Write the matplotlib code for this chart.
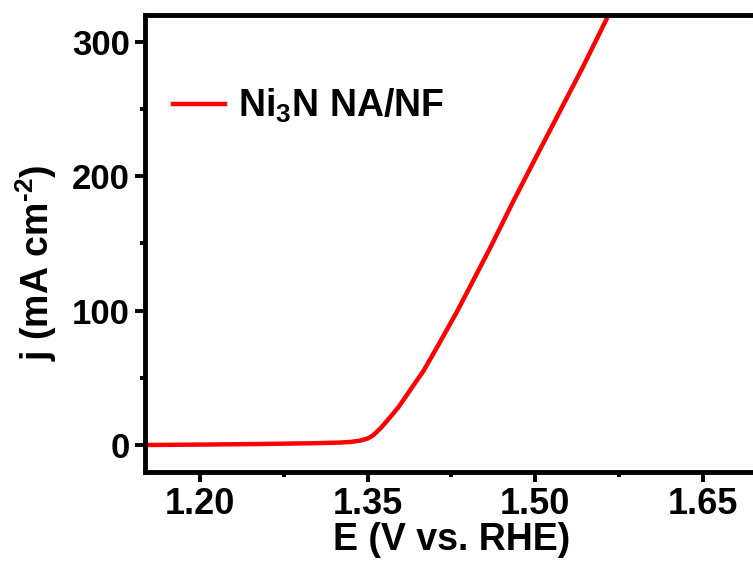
import numpy as np
import matplotlib
matplotlib.use("Agg")
import matplotlib.pyplot as plt
from matplotlib.ticker import FixedLocator, FormatStrFormatter

# LSV curve (E in V vs RHE, j in mA cm^-2)
potential = [1.151, 1.200, 1.250, 1.300, 1.325, 1.335, 1.343, 1.350, 1.355,
             1.362, 1.370, 1.378, 1.385, 1.392, 1.400, 1.415, 1.430, 1.445,
             1.460, 1.480, 1.502, 1.513, 1.528, 1.543, 1.565, 1.580]
current = [0.0, 0.3, 0.7, 1.3, 1.8, 2.3, 3.2, 4.8, 7.2,
           12.8, 20.5, 28.5, 37.0, 45.5, 55.0, 76.8, 99.1, 123.0,
           147.0, 180.5, 216.0, 233.5, 257.5, 281.5, 318.5, 343.0]
series_label = r"Ni$_3$N NA/NF"

x_ticks = [1.20, 1.35, 1.50, 1.65]
x_minor = [1.125, 1.275, 1.425, 1.575]
y_ticks = [0, 100, 200, 300]
y_minor = [50, 150, 250]

plt.rcParams["font.family"] = ["Liberation Sans", "DejaVu Sans"]
plt.rcParams["font.weight"] = "bold"
plt.rcParams["mathtext.fontset"] = "custom"
plt.rcParams["mathtext.rm"] = "Liberation Sans:bold"
plt.rcParams["mathtext.it"] = "Liberation Sans:bold"
plt.rcParams["mathtext.bf"] = "Liberation Sans:bold"

fig = plt.figure(figsize=(7.53, 5.65), dpi=100)
# axes runs slightly past the right edge, like the cropped original
ax = fig.add_axes([0.1926, 0.1648, 0.8146, 0.809])

ax.plot(potential, current, color="#ff0000", lw=3.2, label=series_label,
        solid_joinstyle="round")

ax.set_xlim(1.1507, 1.70)
ax.set_ylim(-20, 320)

ax.xaxis.set_major_locator(FixedLocator(x_ticks))
ax.xaxis.set_minor_locator(FixedLocator(x_minor))
ax.xaxis.set_major_formatter(FormatStrFormatter("%.2f"))
ax.yaxis.set_major_locator(FixedLocator(y_ticks))
ax.yaxis.set_minor_locator(FixedLocator(y_minor))

for sp in ax.spines.values():
    sp.set_linewidth(3.5)

ax.tick_params(which="major", direction="out", length=7, width=2.8, pad=4)
ax.tick_params(which="minor", direction="out", length=3.5, width=2.8)
ax.tick_params(axis="x", labelsize=26)
ax.tick_params(axis="y", labelsize=25)

ax.set_xlabel("E (V vs. RHE)", fontsize=27, fontweight="bold")
ax.set_ylabel(r"j (mA cm$^{\text{-}2}$)", fontsize=27, fontweight="bold")
ax.xaxis.set_label_coords(0.50, -0.11)
ax.yaxis.set_label_coords(-0.14, 0.457)

ax.legend(loc="center left", bbox_to_anchor=(0.045, 0.80), frameon=False,
          fontsize=27, handlelength=1.4, handletextpad=0.35,
          borderpad=0, borderaxespad=0)

fig.savefig("out.png", dpi=100)
